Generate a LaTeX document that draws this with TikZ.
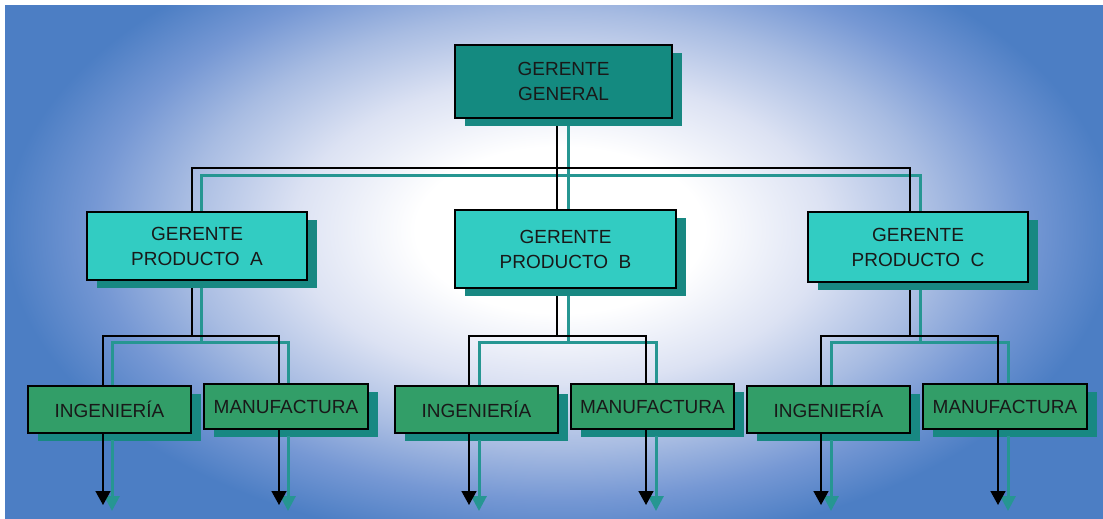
\documentclass[tikz,border=0pt]{standalone}
\usepackage{fontspec}
\setmainfont{Liberation Sans}
\usetikzlibrary{arrows.meta,shadows}
\definecolor{bgblue}{RGB}{76,126,196}
\definecolor{bgmid}{RGB}{118,152,212}
\definecolor{bglight}{RGB}{168,188,226}
\definecolor{bgpale}{RGB}{220,226,243}
\definecolor{topfill}{RGB}{20,138,128}
\definecolor{prodfill}{RGB}{50,204,194}
\definecolor{botfill}{RGB}{50,158,104}
\definecolor{shadowcol}{RGB}{24,136,130}
\definecolor{tealline}{RGB}{38,150,146}
\definecolor{txt}{RGB}{25,25,25}
\pgfdeclareradialshading{bgshade}{\pgfpoint{0bp}{0bp}}{color(0bp)=(white); color(6.5bp)=(white); color(12bp)=(bgpale); color(17bp)=(bglight); color(21bp)=(bgmid); color(25bp)=(bgblue); color(50bp)=(bgblue)}
\begin{document}
\begin{tikzpicture}[x=1pt,y=-1pt,
  box/.style={draw=black,line width=1.3pt,align=center,text=txt,inner sep=0pt,
    font=\fontsize{19}{25}\selectfont,
    drop shadow={shadow xshift=10pt,shadow yshift=-8pt,fill=shadowcol,opacity=1}},
  topbox/.style={box,fill=topfill,minimum width=217pt,minimum height=73pt},
  prodbox/.style={box,fill=prodfill,minimum width=220pt},
  botbox/.style={box,fill=botfill,minimum width=163pt},
  blk/.style={draw=black,line width=1.6pt},
  tl/.style={draw=tealline,line width=3pt},
  blkarr/.style={blk,-{Triangle[width=15pt 0 0,length=14pt 0 0]}},
  tlarr/.style={tl,-{Triangle[width=15pt 0 0,length=15pt 0 0,fill=tealline]}}
]
\useasboundingbox (0,0) rectangle (1103,519);
\fill[white] (0,0) rectangle (1103,519);
\fill[bgblue] (5,6) rectangle (1103,519);
\begin{scope}
  \clip (5,6) rectangle (1103,519);
  \shade[shading=bgshade] (5,-90) rectangle (1115,550);
\end{scope}

% coordinates for connectors
\coordinate (busL) at (192,168);
\coordinate (busR) at (910,168);
\coordinate (tbusL) at (201,175);
\coordinate (tbusR) at (920,175);
\coordinate (bA) at (103,336);
\coordinate (bA2) at (279,336);
\coordinate (tA) at (112,342);
\coordinate (tA2) at (288,342);
\coordinate (bB) at (469,336);
\coordinate (bB2) at (646,336);
\coordinate (tB) at (479,342);
\coordinate (tB2) at (656,342);
\coordinate (bC) at (821,336);
\coordinate (bC2) at (998,336);
\coordinate (tC) at (831,342);
\coordinate (tC2) at (1008,342);
\coordinate (ends) at (0,505);
\coordinate (tends) at (0,511);

% teal lines (behind)
\path[tl] (568,125) -- (568,210);
\path[tl] (tbusL |- 0,212) -- (tbusL) -- (tbusR) -- (tbusR |- 0,212);
\path[tl] (201,288) -- (201,342);
\path[tl] (tA |- 0,390) -- (tA) -- (tA2) -- (tA2 |- 0,390);
\path[tl] (568,296) -- (568,342);
\path[tl] (tB |- 0,390) -- (tB) -- (tB2) -- (tB2 |- 0,390);
\path[tl] (920,290) -- (920,342);
\path[tl] (tC |- 0,390) -- (tC) -- (tC2) -- (tC2 |- 0,390);

% black lines
\path[blk] (557,118) -- (557,336);
\path[blk] (busL |- 0,212) -- (busL) -- (busR) -- (busR |- 0,212);
\path[blk] (192,280) -- (192,336);
\path[blk] (bA |- 0,386) -- (bA) -- (bA2) -- (bA2 |- 0,384);
\path[blk] (bB |- 0,386) -- (bB) -- (bB2) -- (bB2 |- 0,384);
\path[blk] (910,282) -- (910,336);
\path[blk] (bC |- 0,386) -- (bC) -- (bC2) -- (bC2 |- 0,384);

% nodes
\node[topbox] (top) at (563.5,81.5) {GERENTE\\GENERAL};
\node[prodbox,minimum height=68pt] (pa) at (197,246) {GERENTE\\PRODUCTO\ \ A};
\node[prodbox,minimum width=221pt,minimum height=78pt] (pb) at (565.5,249) {GERENTE\\PRODUCTO\ \ B};
\node[prodbox,minimum height=70pt] (pc) at (918,247) {GERENTE\\PRODUCTO\ \ C};
\node[botbox,minimum height=47pt] (ia) at (109.5,409.5) {INGENIERÍA};
\node[botbox,minimum width=164pt,minimum height=45pt] (ma) at (286,406.5) {MANUFACTURA};
\node[botbox,minimum height=47pt] (ib) at (476.5,409.5) {INGENIERÍA};
\node[botbox,minimum width=163pt,minimum height=45pt] (mb) at (652.5,406.5) {MANUFACTURA};
\node[botbox,minimum height=47pt] (ic) at (828.5,409.5) {INGENIERÍA};
\node[botbox,minimum width=164pt,minimum height=45pt] (mc) at (1005,406.5) {MANUFACTURA};

% arrows
\foreach \n/\bx/\tx in {ia/103/112, ma/279/288, ib/469/479, mb/646/656, ic/821/831, mc/998/1008}{
  \draw[tlarr] (\tx,0 |- \n.south) ++(0,6) -- (\tx,0 |- tends);
  \draw[blkarr] (\bx,0 |- \n.south) -- (\bx,0 |- ends);
}
\end{tikzpicture}
\end{document}
